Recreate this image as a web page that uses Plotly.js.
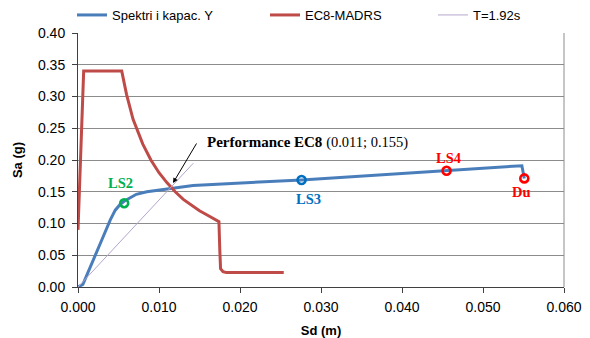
<!DOCTYPE html>
<html>
<head>
<meta charset="utf-8">
<script src="https://cdn.plot.ly/plotly-3.0.1.min.js"></script>
<style>html,body{margin:0;padding:0;background:#fff;}#chart{width:590px;height:338px;}</style>
</head>
<body>
<div id="chart"></div>
<script>
// Capacity spectrum (Spektri i kapac. Y)
const capSd = [0, 0.0006, 0.001, 0.002, 0.003, 0.004, 0.0046, 0.0052, 0.0058, 0.0065, 0.0072, 0.0085, 0.0101, 0.0142, 0.0276, 0.0455, 0.0548, 0.0551];
const capSa = [0, 0.004, 0.016, 0.045, 0.076, 0.106, 0.121, 0.130, 0.136, 0.141, 0.146, 0.150, 0.153, 0.160, 0.1685, 0.183, 0.191, 0.171];

// EC8-MADRS demand spectrum
const ecSd = [0, 0.0007, 0.0054, 0.006, 0.0068, 0.0075, 0.008, 0.009, 0.010, 0.011, 0.012, 0.013, 0.014, 0.015, 0.016, 0.0174, 0.0175, 0.0176, 0.0179, 0.0183, 0.0254];
const ecSa = [0.09, 0.34, 0.34, 0.303, 0.264, 0.240, 0.225, 0.200, 0.180, 0.164, 0.150, 0.138, 0.129, 0.120, 0.113, 0.103, 0.060, 0.029, 0.024, 0.023, 0.023];

// Period line T=1.92s
const tSd = [0, 0.01424];
const tSa = [0, 0.195];

// Limit-state points
const lsNames = ['LS2', 'LS3', 'LS4', 'Du'];
const lsSd = [0.0057, 0.0276, 0.0455, 0.0551];
const lsSa = [0.132, 0.1685, 0.183, 0.171];

// Performance point
const perfSd = 0.011;
const perfSa = 0.155;

// Tick labels
const xTicks = [0, 0.01, 0.02, 0.03, 0.04, 0.05, 0.06];
const yTicks = [0, 0.05, 0.10, 0.15, 0.20, 0.25, 0.30, 0.35, 0.40];

// styles (kept separate from the data)
const lsColors = ['#00b050', '#0070c0', '#ff0000', '#ff0000'];
const lsLabelShift = [[-4, 20], [7, -19], [2, 13], [-3, -14]];

const traces = [
  {x: capSd, y: capSa, type: 'scatter', mode: 'lines', name: 'Spektri i kapac. Y',
   line: {color: '#4a7ebb', width: 3}, legend: 'legend'},
  {x: ecSd, y: ecSa, type: 'scatter', mode: 'lines', name: 'EC8-MADRS',
   line: {color: '#be4b48', width: 3}, legend: 'legend2'},
  {x: tSd, y: tSa, type: 'scatter', mode: 'lines', name: 'T=1.92s',
   line: {color: '#b3a6cc', width: 1}, legend: 'legend3'},
  {x: lsSd, y: lsSa, type: 'scatter', mode: 'markers', showlegend: false,
   marker: {symbol: 'circle-open', size: 8, color: lsColors, line: {width: 2.6, color: lsColors}}}
];

const annotations = lsNames.map((n, i) => ({
  x: lsSd[i], y: lsSa[i], xref: 'x', yref: 'y', text: '<b>' + n + '</b>', showarrow: false,
  xanchor: 'center', yanchor: 'middle',
  xshift: lsLabelShift[i][0], yshift: lsLabelShift[i][1],
  font: {family: 'Liberation Serif, Times New Roman, serif', size: 14.5, color: lsColors[i]}
}));

// arrow to performance point
annotations.push({
  x: 0.01173, y: 0.1638, xref: 'x', yref: 'y', text: ' ', showarrow: true,
  ax: 25, ay: -42, arrowhead: 2, arrowsize: 1, arrowwidth: 1, arrowcolor: '#000', standoff: 0,
  font: {size: 2}
});
annotations.push({
  x: 0.01568, y: 0.2268, xref: 'x', yref: 'y', showarrow: false, xanchor: 'left', yanchor: 'middle',
  text: '<b>Performance EC8</b> <span style="font-size:14.5px">(' + perfSd.toFixed(3) + '; ' + perfSa.toFixed(3) + ')</span>',
  font: {family: 'Liberation Serif, Times New Roman, serif', size: 15, color: '#000'}
});

const layout = {
  width: 590, height: 338,
  margin: {l: 78, r: 26, t: 33, b: 51, pad: 0},
  paper_bgcolor: '#fff', plot_bgcolor: '#fff',
  font: {family: 'Liberation Sans, Arial, sans-serif', size: 14, color: '#000'},
  xaxis: {
    range: [0, 0.06], tickvals: xTicks, tickformat: '.3f',
    showgrid: false, zeroline: false, showline: true, linecolor: '#404040', linewidth: 1,
    ticks: 'outside', ticklen: 5, tickcolor: '#404040', tickwidth: 1,
    tickfont: {size: 14}, ticklabelstandoff: 2,
    title: {text: '<b>Sd (m)</b>', font: {size: 13}, standoff: 12}
  },
  yaxis: {
    range: [0, 0.4], tickvals: yTicks, tickformat: '.2f',
    showgrid: true, gridcolor: '#8c8c8c', gridwidth: 1,
    zeroline: false, showline: true, linecolor: '#404040', linewidth: 1,
    ticks: 'outside', ticklen: 5, tickcolor: '#404040', tickwidth: 1,
    tickfont: {size: 14}, ticklabelstandoff: 4,
    title: {text: '<b>Sa (g)</b>', font: {size: 13}, standoff: 12}
  },
  shapes: [
    {type: 'line', xref: 'paper', yref: 'paper', x0: 1, x1: 1, y0: 0, y1: 1, line: {color: '#8c8c8c', width: 1}}
  ],
  showlegend: true,
  legend: {orientation: 'h', xref: 'container', yref: 'container', x: 72/590, y: 1 - 15/338,
           xanchor: 'left', yanchor: 'middle', font: {size: 13}, bgcolor: 'rgba(0,0,0,0)', borderwidth: 0},
  legend2: {orientation: 'h', xref: 'container', yref: 'container', x: 265/590, y: 1 - 15/338,
           xanchor: 'left', yanchor: 'middle', font: {size: 13}, bgcolor: 'rgba(0,0,0,0)', borderwidth: 0},
  legend3: {orientation: 'h', xref: 'container', yref: 'container', x: 433/590, y: 1 - 15/338,
           xanchor: 'left', yanchor: 'middle', font: {size: 13}, bgcolor: 'rgba(0,0,0,0)', borderwidth: 0},
  annotations: annotations
};

Plotly.newPlot('chart', traces, layout, {displayModeBar: false, staticPlot: true});
</script>
</body>
</html>
